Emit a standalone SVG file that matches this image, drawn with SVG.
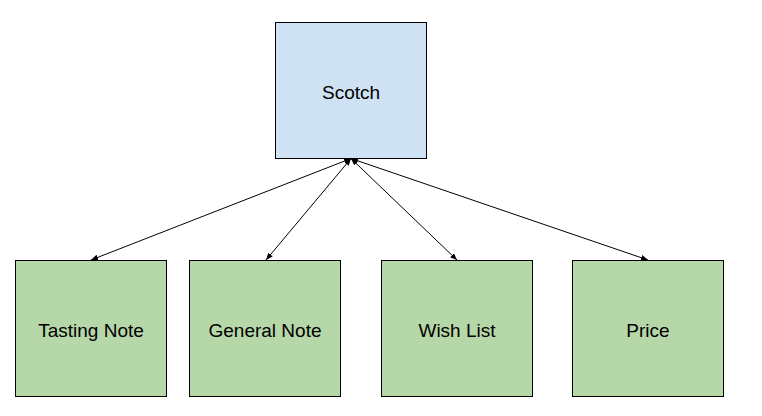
<svg xmlns="http://www.w3.org/2000/svg" width="762" height="416" viewBox="0 0 762 416">
  <defs>
    <marker id="head" viewBox="0 0 10 10" refX="10" refY="5" markerWidth="7" markerHeight="7" orient="auto-start-reverse" markerUnits="userSpaceOnUse">
      <path d="M0,1 L10,5 L0,9 Z" fill="#000"/>
    </marker>
  </defs>
  <style>
    .box { stroke: #000; stroke-width: 1; }
    .root { fill: #cfe2f3; }
    .leaf { fill: #b6d7a8; }
    .label { font-family: "Liberation Sans", Arial, sans-serif; font-size: 19px; fill: #000; text-anchor: middle; dominant-baseline: central; }
    .link { stroke: #000; stroke-width: 1; fill: none; marker-start: url(#head); marker-end: url(#head); }
  </style>
  <rect width="762" height="416" fill="#fff"/>

  <g id="connectors">
    <line class="link" x1="351" y1="158.5" x2="91" y2="260"/>
    <line class="link" x1="351" y1="158.5" x2="266" y2="260"/>
    <line class="link" x1="351" y1="158.5" x2="457" y2="260"/>
    <line class="link" x1="351" y1="158.5" x2="648" y2="260"/>
  </g>

  <g id="scotch">
    <rect class="box root" x="275.5" y="22.5" width="151" height="136"/>
    <text class="label" x="351" y="92">Scotch</text>
  </g>
  <g id="tasting-note">
    <rect class="box leaf" x="15.5" y="260.5" width="151" height="136"/>
    <text class="label" x="91" y="330">Tasting Note</text>
  </g>
  <g id="general-note">
    <rect class="box leaf" x="189.5" y="260.5" width="151" height="136"/>
    <text class="label" x="265" y="330">General Note</text>
  </g>
  <g id="wish-list">
    <rect class="box leaf" x="381.5" y="260.5" width="151" height="136"/>
    <text class="label" x="457" y="330">Wish List</text>
  </g>
  <g id="price">
    <rect class="box leaf" x="572.5" y="260.5" width="151" height="136"/>
    <text class="label" x="648" y="330">Price</text>
  </g>
</svg>
